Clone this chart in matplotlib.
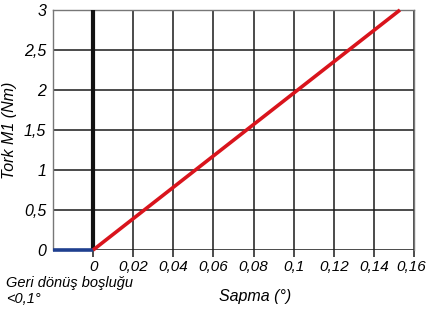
import numpy as np
import matplotlib.pyplot as plt
import matplotlib.transforms as mtransforms

# data
x_ticks = [0, 0.02, 0.04, 0.06, 0.08, 0.1, 0.12, 0.14, 0.16]
x_tick_labels = ["0", "0,02", "0,04", "0,06", "0,08", "0,1", "0,12", "0,14", "0,16"]
y_ticks = [0, 0.5, 1, 1.5, 2, 2.5, 3]
y_tick_labels = ["0", "0,5", "1", "1,5", "2", "2,5", "3"]

backlash_x = [-0.02, 0]
backlash_y = [0, 0]
stiff_x = [0, 0.153]
stiff_y = [0, 3]
zero_x = [0, 0]
zero_y = [0, 3]

plt.rcParams["font.family"] = ["Liberation Sans", "DejaVu Sans"]
plt.rcParams["font.style"] = "italic"

fig = plt.figure(figsize=(4.28, 3.16), dpi=100)
ax = fig.add_axes([53 / 428, 66 / 316, 361 / 428, 240 / 316])

ax.set_xlim(-0.02, 0.16)
ax.set_ylim(0, 3)

# grid
for xv in np.arange(-0.02, 0.161, 0.02):
    ax.axvline(xv, color="#1a1a1a", lw=1.1, zorder=1)
for yv in y_ticks:
    ax.axhline(yv, color="#1a1a1a", lw=1.1, zorder=1)

ax.plot(zero_x, zero_y, color="#111111", lw=3, zorder=3, solid_capstyle="butt")
ax.plot(backlash_x, backlash_y, color="#1f3f8f", lw=2.6, zorder=4,
        solid_capstyle="butt", clip_on=False)
ax.plot(stiff_x, stiff_y, color="#d9141c", lw=2.6, zorder=5, solid_capstyle="butt",
        clip_on=False)

for s in ax.spines.values():
    s.set_color("#777777")
    s.set_linewidth(1)
ax.spines["bottom"].set_visible(False)

ax.set_xticks(x_ticks)
ax.set_xticklabels(x_tick_labels, fontsize=11)
ax.set_yticks(y_ticks)
ax.set_yticklabels(y_tick_labels, fontsize=11.5)
ax.tick_params(axis="x", length=5, width=1.1, color="#1a1a1a", pad=2)
ax.tick_params(axis="y", length=0, pad=5)
# nudge the last label a few pixels left so it stays inside the figure
last = ax.get_xticklabels()[-1]
last.set_transform(last.get_transform() +
                   mtransforms.ScaledTranslation(-3 / 100, 0, fig.dpi_scale_trans))

ax.set_ylabel("Tork M1 (Nm)", fontsize=11.5, labelpad=5)
fig.text(255 / 428, 1 - 297 / 316, "Sapma (°)", fontsize=11.5, ha="center", va="center",
         style="italic")
fig.text(6 / 428, 1 - 291 / 316, "Geri dönüş boşluğu\n<0,1°", fontsize=10.5, ha="left",
         va="center", style="italic", linespacing=1.15)

fig.savefig("out.png", dpi=100)
